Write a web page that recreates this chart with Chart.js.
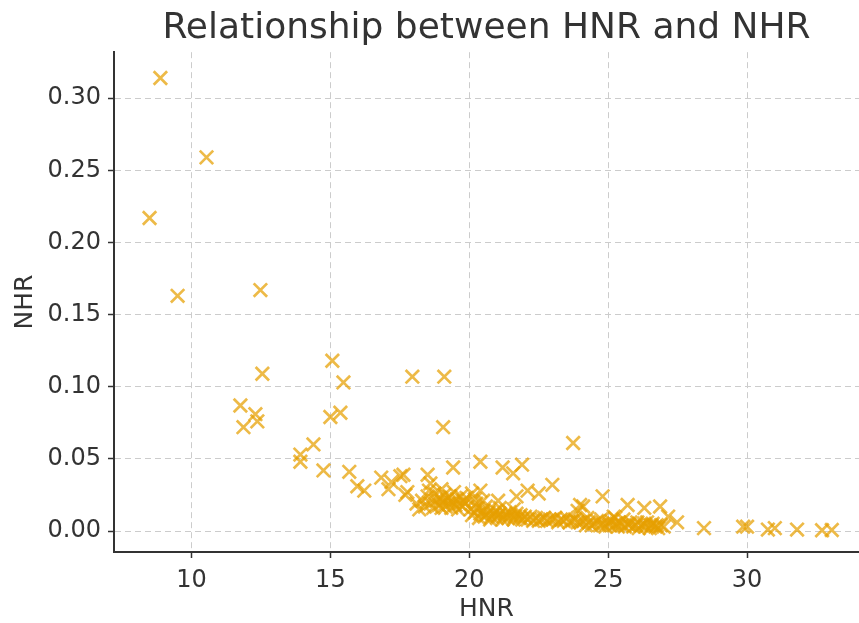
<!DOCTYPE html>
<html>
<head>
<meta charset="utf-8">
<script src="https://cdn.jsdelivr.net/npm/chart.js@4/dist/chart.umd.min.js"></script>
<style>
  html, body { margin: 0; padding: 0; background: #ffffff; overflow: hidden; }
  #wrap { width: 859px; height: 623px; position: relative; }
</style>
</head>
<body>
<div id="wrap"><canvas id="c" width="859" height="623"></canvas></div>
<script>
// ---- data ----
const chartTitle = "Relationship between HNR and NHR";
const xLabel = "HNR";
const yLabel = "NHR";
const xTickValues = [10, 15, 20, 25, 30];
const yTickValues = [0.00, 0.05, 0.10, 0.15, 0.20, 0.25, 0.30];

const hnrValues = [
  8.88, 8.49, 10.54, 9.50, 12.48, 12.55, 11.76, 11.87, 12.30, 12.37,
  13.92, 13.92, 14.39, 14.75, 15.07, 15.47, 15.00, 15.36, 15.68, 15.97,
  16.22, 16.83, 17.20, 17.52, 17.09, 17.70, 17.95, 19.10, 19.06, 19.42,
  18.50, 18.60, 17.63, 17.77, 20.40, 21.20, 21.58, 21.90, 20.40, 21.04,
  21.70, 22.10, 22.50, 22.99, 23.74, 23.99, 23.90, 24.80, 25.70, 26.30,
  26.87, 27.16, 27.48, 24.10, 25.20, 28.45, 29.86, 30.00, 30.75, 31.00,
  31.80, 32.70, 33.05,
  18.10, 18.30, 18.40, 18.50, 18.60, 18.70, 18.75, 18.80, 18.90, 18.95,
  19.00, 19.05, 19.10, 19.15, 19.20, 19.25, 19.30, 19.35, 19.40, 19.45,
  19.50, 19.55, 19.60, 19.65, 19.70, 19.75, 19.80, 19.85, 19.90, 18.20,
  18.55, 19.00,
  20.05, 20.10, 20.20, 20.30, 20.35, 20.40, 20.50, 20.55, 20.60, 20.70,
  20.75, 20.80, 20.90, 20.95, 21.00, 21.05, 21.10, 21.20, 21.25, 21.30,
  21.40, 21.45, 21.50, 21.60, 21.65, 21.70, 21.80, 21.85, 21.90, 22.00,
  22.10, 22.20, 22.30, 22.40, 22.50, 22.60, 22.70, 22.80, 22.90, 20.25,
  20.60, 21.10, 21.60, 20.10, 20.20, 20.50,
  23.00, 23.10, 23.20, 23.30, 23.40, 23.50, 23.60, 23.70, 23.80, 23.90,
  24.00, 24.10, 24.20, 24.30, 24.40, 24.50, 24.60, 24.70, 24.80, 24.90,
  25.00, 25.05, 25.10, 25.20, 25.30, 25.35, 25.40, 25.50, 25.55, 25.60,
  25.70, 25.75, 25.80, 25.90, 26.00, 26.05, 26.10, 26.20, 26.30, 26.35,
  26.40, 26.50, 26.55, 26.60, 26.70, 26.75, 26.80, 26.90, 27.00, 24.25,
  24.75, 25.25
];

const nhrValues = [
  0.314, 0.217, 0.259, 0.163, 0.167, 0.109, 0.087, 0.072, 0.081, 0.076,
  0.053, 0.048, 0.060, 0.042, 0.118, 0.103, 0.079, 0.082, 0.041, 0.031,
  0.028, 0.037, 0.034, 0.038, 0.029, 0.025, 0.107, 0.107, 0.072, 0.044,
  0.039, 0.033, 0.039, 0.027, 0.048, 0.044, 0.040, 0.046, 0.028, 0.021,
  0.024, 0.028, 0.026, 0.032, 0.061, 0.018, 0.014, 0.024, 0.018, 0.016,
  0.017, 0.010, 0.006, 0.017, 0.010, 0.002, 0.003, 0.003, 0.001, 0.002,
  0.001, 0.0005, 0.0007,
  0.019, 0.021, 0.017, 0.024, 0.019, 0.016, 0.026, 0.021, 0.018, 0.023,
  0.016, 0.020, 0.025, 0.017, 0.022, 0.019, 0.024, 0.016, 0.020, 0.027,
  0.018, 0.022, 0.015, 0.019, 0.024, 0.017, 0.021, 0.019, 0.023, 0.015,
  0.028, 0.029,
  0.015, 0.011, 0.013, 0.016, 0.009, 0.012, 0.014, 0.010, 0.011, 0.013,
  0.008, 0.010, 0.012, 0.014, 0.009, 0.011, 0.012, 0.008, 0.010, 0.012,
  0.009, 0.013, 0.011, 0.008, 0.010, 0.012, 0.009, 0.011, 0.008, 0.010,
  0.008, 0.010, 0.007, 0.009, 0.007, 0.008, 0.009, 0.007, 0.008, 0.019,
  0.017, 0.016, 0.015, 0.026, 0.022, 0.021,
  0.008, 0.009, 0.006, 0.008, 0.007, 0.009, 0.006, 0.007, 0.008, 0.006,
  0.006, 0.007, 0.004, 0.006, 0.004, 0.005, 0.007, 0.004, 0.005, 0.003,
  0.006, 0.004, 0.007, 0.004, 0.005, 0.003, 0.006, 0.004, 0.008, 0.003,
  0.005, 0.004, 0.006, 0.003, 0.004, 0.006, 0.002, 0.004, 0.005, 0.003,
  0.006, 0.002, 0.004, 0.005, 0.003, 0.004, 0.002, 0.004, 0.003, 0.009,
  0.008, 0.009
];

// ---- chart ----
const points = hnrValues.map((x, i) => ({ x: x, y: nhrValues[i] }));
const textColor = '#333333';
const font = 'DejaVu Sans';

new Chart(document.getElementById('c'), {
  type: 'scatter',
  data: {
    datasets: [{
      data: points,
      pointStyle: 'crossRot',
      pointRadius: 9.5,
      pointHoverRadius: 9.5,
      pointBorderWidth: 2.7,
      borderColor: 'rgba(230,159,0,0.72)',
      backgroundColor: 'rgba(230,159,0,0.72)'
    }]
  },
  options: {
    responsive: false,
    animation: false,
    events: [],
    layout: { padding: 0, autoPadding: false },
    plugins: {
      legend: { display: false },
      tooltip: { enabled: false },
      title: {
        display: true,
        text: chartTitle,
        fullSize: false,
        color: textColor,
        font: { family: font, size: 36, weight: 'normal' },
        padding: { top: 7, bottom: 2 }
      }
    },
    scales: {
      x: {
        type: 'linear',
        min: 7.21,
        max: 34.03,
        afterBuildTicks: (axis) => { axis.ticks = xTickValues.map(v => ({ value: v })); },
        afterFit: (scale) => { scale.height = 71; },
        ticks: {
          color: textColor,
          font: { family: font, size: 24 },
          padding: 8,
          maxRotation: 0,
          callback: (v) => String(v)
        },
        grid: {
          color: '#cccccc',
          lineWidth: 1,
          tickColor: '#333333',
          tickWidth: 1.5,
          tickLength: 6,
          tickBorderDash: []
        },
        border: { display: true, color: '#333333', width: 2, dash: [6, 4] },
        title: {
          display: true,
          text: xLabel,
          color: textColor,
          font: { family: font, size: 25 },
          padding: { top: 0, bottom: -1 }
        }
      },
      y: {
        type: 'linear',
        min: -0.01455,
        max: 0.3319,
        afterBuildTicks: (axis) => { axis.ticks = yTickValues.map(v => ({ value: v })); },
        afterFit: (scale) => { scale.width = 114; },
        ticks: {
          color: textColor,
          font: { family: font, size: 24 },
          padding: 7,
          callback: (v) => Number(v).toFixed(2)
        },
        grid: {
          color: '#cccccc',
          lineWidth: 1,
          tickColor: '#333333',
          tickWidth: 1.5,
          tickLength: 6,
          tickBorderDash: []
        },
        border: { display: true, color: '#333333', width: 2, dash: [6, 4] },
        title: {
          display: true,
          text: yLabel,
          color: textColor,
          font: { family: font, size: 25 },
          padding: { top: 10.5, bottom: 0 }
        }
      }
    }
  }
});
</script>
</body>
</html>
